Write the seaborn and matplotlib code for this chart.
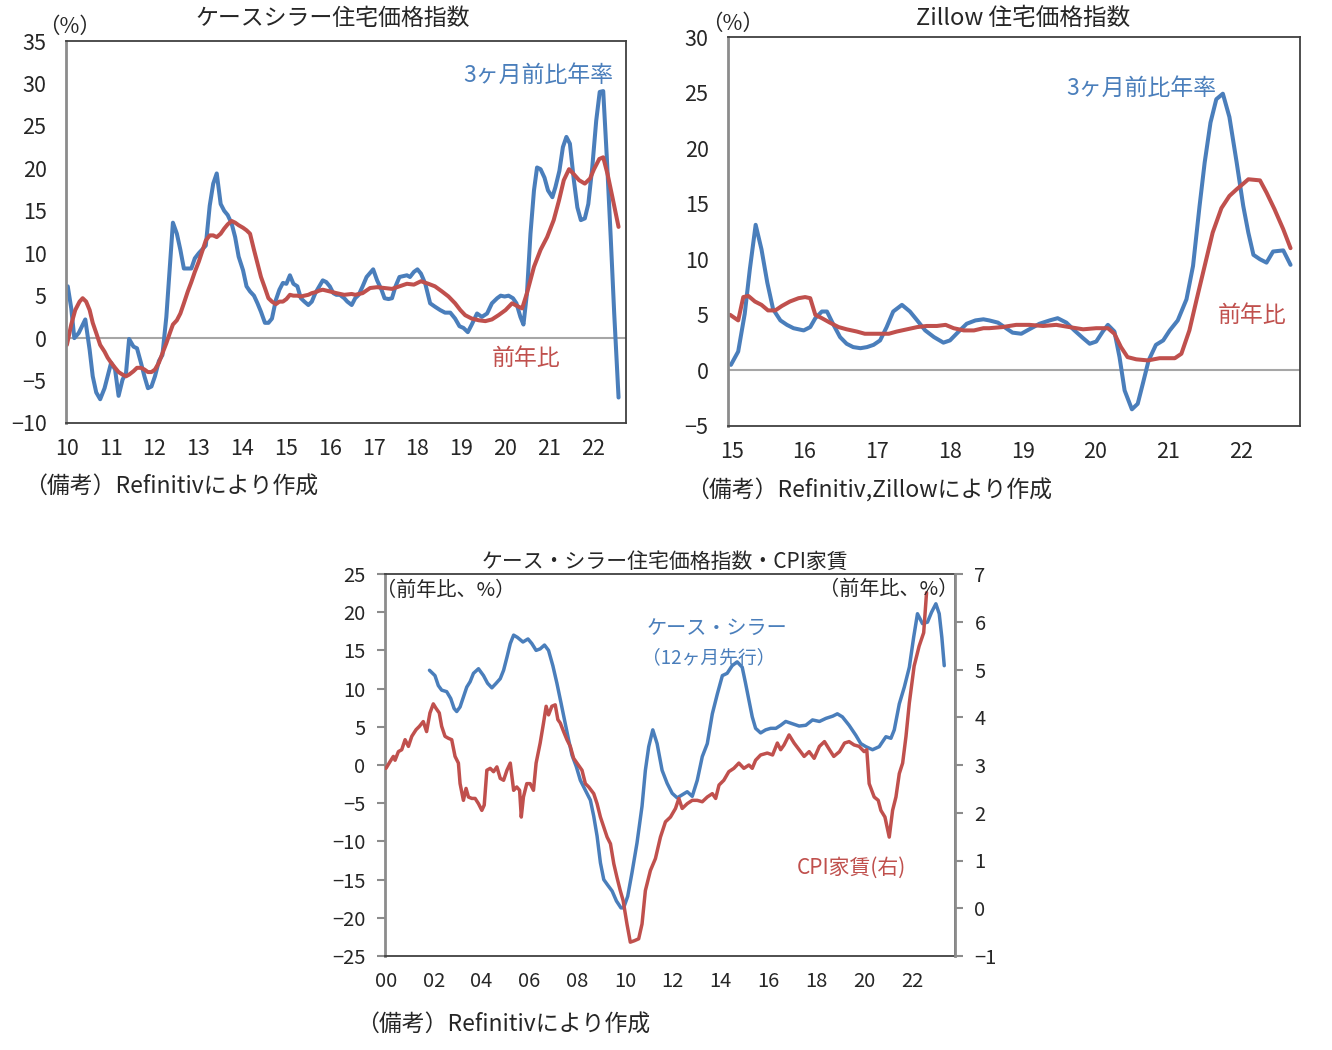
import matplotlib
matplotlib.use("Agg")
import matplotlib.pyplot as plt
import seaborn as sns

# --- data (decimal years) ---
# Case-Shiller, 3-month annualised
cs3m_x = [2010.02, 2010.10, 2010.17, 2010.27, 2010.42, 2010.52, 2010.59, 2010.67, 2010.76, 2010.86,
          2010.93, 2011.01, 2011.10, 2011.18, 2011.27, 2011.35, 2011.42, 2011.52, 2011.60, 2011.69,
          2011.77, 2011.85, 2011.93, 2012.01, 2012.10, 2012.18, 2012.27, 2012.35, 2012.42, 2012.51,
          2012.59, 2012.67, 2012.76, 2012.84, 2012.92, 2013.01, 2013.10, 2013.17, 2013.26, 2013.34,
          2013.42, 2013.51, 2013.59, 2013.67, 2013.76, 2013.84, 2013.92, 2014.02, 2014.10, 2014.18,
          2014.27, 2014.35, 2014.43, 2014.52, 2014.60, 2014.68, 2014.77, 2014.85, 2014.93, 2015.01,
          2015.09, 2015.17, 2015.26, 2015.34, 2015.42, 2015.51, 2015.59, 2015.67, 2015.76, 2015.84,
          2015.92, 2016.00, 2016.08, 2016.15, 2016.23, 2016.33, 2016.40, 2016.50, 2016.58, 2016.66,
          2016.75, 2016.84, 2016.99, 2017.08, 2017.18, 2017.25, 2017.34, 2017.42, 2017.50, 2017.59,
          2017.67, 2017.76, 2017.83, 2017.92, 2018.00, 2018.08, 2018.18, 2018.29, 2018.40, 2018.52,
          2018.63, 2018.75, 2018.86, 2018.96, 2019.05, 2019.15, 2019.24, 2019.36, 2019.47, 2019.59,
          2019.70, 2019.82, 2019.90, 2019.99, 2020.08, 2020.18, 2020.26, 2020.35, 2020.42, 2020.50,
          2020.58, 2020.66, 2020.73, 2020.81, 2020.90, 2020.98, 2021.08, 2021.15, 2021.24, 2021.32,
          2021.40, 2021.48, 2021.57, 2021.65, 2021.73, 2021.82, 2021.90, 2021.99, 2022.08, 2022.16,
          2022.24, 2022.32, 2022.41, 2022.49, 2022.59]
cs3m_y = [6.1, 3.5, 0.0, 0.6, 2.2, -1.4, -4.5, -6.4, -7.2, -5.9,
          -4.5, -2.9, -3.7, -6.8, -4.9, -4.1, -0.1, -1.0, -1.2, -2.9,
          -4.5, -5.9, -5.7, -4.5, -2.7, -2.0, 2.5, 8.4, 13.6, 12.3,
          10.4, 8.2, 8.2, 8.2, 9.4, 10.0, 10.5, 10.9, 15.6, 18.2,
          19.4, 15.8, 15.0, 14.5, 13.5, 11.9, 9.6, 8.0, 6.1, 5.5,
          5.0, 4.1, 3.1, 1.8, 1.8, 2.3, 4.5, 5.7, 6.5, 6.4,
          7.4, 6.4, 6.1, 4.7, 4.3, 3.9, 4.3, 5.3, 6.1, 6.8,
          6.6, 6.1, 5.3, 5.1, 5.1, 4.7, 4.3, 3.9, 4.7, 5.1,
          6.1, 7.2, 8.1, 6.8, 5.7, 4.7, 4.6, 4.7, 6.1, 7.2,
          7.3, 7.4, 7.2, 7.8, 8.1, 7.6, 6.4, 4.1, 3.7, 3.3,
          3.0, 3.0, 2.3, 1.4, 1.2, 0.7, 1.6, 2.9, 2.5, 2.9,
          4.1, 4.7, 5.0, 4.9, 5.0, 4.7, 4.1, 2.5, 1.6, 5.3,
          12.3, 17.4, 20.1, 19.9, 18.9, 17.4, 16.6, 17.8, 19.7, 22.5,
          23.7, 22.9, 18.6, 15.4, 13.9, 14.1, 15.8, 20.1, 25.6, 29.0,
          29.1, 21.5, 12.0, 3.0, -7.0]

# Case-Shiller, year on year
csyy_x = [2010.00, 2010.10, 2010.19, 2010.29, 2010.36, 2010.44, 2010.52, 2010.59, 2010.67, 2010.76,
          2010.86, 2010.93, 2011.01, 2011.10, 2011.18, 2011.27, 2011.35, 2011.42, 2011.52, 2011.60,
          2011.69, 2011.77, 2011.85, 2011.93, 2012.01, 2012.10, 2012.18, 2012.27, 2012.35, 2012.42,
          2012.51, 2012.59, 2012.67, 2012.76, 2012.84, 2012.92, 2013.01, 2013.10, 2013.17, 2013.26,
          2013.34, 2013.42, 2013.51, 2013.59, 2013.67, 2013.76, 2013.84, 2013.92, 2014.02, 2014.10,
          2014.18, 2014.27, 2014.35, 2014.43, 2014.52, 2014.60, 2014.68, 2014.77, 2014.85, 2014.93,
          2015.01, 2015.09, 2015.17, 2015.26, 2015.34, 2015.42, 2015.51, 2015.59, 2015.67, 2015.76,
          2015.84, 2015.92, 2016.00, 2016.15, 2016.33, 2016.50, 2016.58, 2016.75, 2016.92, 2017.08,
          2017.25, 2017.42, 2017.59, 2017.76, 2017.92, 2018.08, 2018.25, 2018.40, 2018.56, 2018.71,
          2018.86, 2018.98, 2019.09, 2019.24, 2019.40, 2019.55, 2019.70, 2019.85, 2020.01, 2020.16,
          2020.27, 2020.39, 2020.50, 2020.66, 2020.81, 2020.96, 2021.11, 2021.23, 2021.34, 2021.46,
          2021.57, 2021.69, 2021.82, 2021.94, 2022.03, 2022.15, 2022.24, 2022.34, 2022.45, 2022.59]
csyy_y = [-0.8, 1.6, 3.3, 4.3, 4.7, 4.3, 3.3, 1.8, 0.6, -0.8,
          -1.6, -2.3, -2.9, -3.5, -4.0, -4.3, -4.5, -4.3, -3.9, -3.5,
          -3.5, -3.7, -4.0, -4.0, -3.7, -2.9, -1.8, -0.6, 0.6, 1.6,
          2.1, 2.9, 4.1, 5.5, 6.6, 7.8, 9.0, 10.4, 11.5, 12.1,
          12.1, 11.9, 12.3, 12.9, 13.4, 13.8, 13.6, 13.3, 13.0, 12.7,
          12.3, 10.4, 8.8, 7.2, 5.9, 4.7, 4.3, 4.0, 4.3, 4.3,
          4.6, 5.1, 5.0, 5.0, 4.9, 5.0, 5.1, 5.3, 5.4, 5.6,
          5.7, 5.6, 5.5, 5.3, 5.1, 5.2, 5.1, 5.3, 5.9, 6.0,
          5.9, 5.8, 6.1, 6.4, 6.3, 6.7, 6.4, 6.1, 5.5, 4.9,
          4.1, 3.3, 2.7, 2.3, 2.1, 2.0, 2.2, 2.7, 3.3, 4.1,
          3.8, 3.5, 5.3, 8.4, 10.4, 11.9, 13.9, 16.2, 18.6, 19.9,
          19.3, 18.6, 18.2, 18.8, 19.9, 21.1, 21.3, 19.3, 16.6, 13.1]

# Zillow, 3-month annualised
z3m_x = [2014.99, 2015.09, 2015.18, 2015.25, 2015.33, 2015.41, 2015.49, 2015.57, 2015.67, 2015.76,
         2015.85, 2015.99, 2016.08, 2016.15, 2016.24, 2016.31, 2016.40, 2016.49, 2016.58, 2016.67,
         2016.77, 2016.86, 2016.95, 2017.04, 2017.13, 2017.22, 2017.34, 2017.45, 2017.55, 2017.66,
         2017.78, 2017.91, 2018.00, 2018.12, 2018.23, 2018.35, 2018.46, 2018.54, 2018.66, 2018.77,
         2018.86, 2018.98, 2019.09, 2019.23, 2019.37, 2019.48, 2019.60, 2019.71, 2019.83, 2019.92,
         2020.01, 2020.10, 2020.17, 2020.26, 2020.33, 2020.40, 2020.50, 2020.58, 2020.65, 2020.73,
         2020.83, 2020.93, 2021.02, 2021.13, 2021.25, 2021.34, 2021.43, 2021.50, 2021.58, 2021.66,
         2021.75, 2021.84, 2021.94, 2022.03, 2022.10, 2022.17, 2022.26, 2022.35, 2022.44, 2022.58,
         2022.68]
z3m_y = [0.5, 1.7, 5.1, 9.1, 13.1, 10.9, 7.9, 5.5, 4.5, 4.1,
         3.8, 3.6, 3.9, 4.7, 5.3, 5.3, 4.1, 3.0, 2.4, 2.1,
         2.0, 2.1, 2.3, 2.7, 3.9, 5.3, 5.9, 5.3, 4.5, 3.6,
         3.0, 2.5, 2.7, 3.5, 4.2, 4.5, 4.6, 4.5, 4.3, 3.8,
         3.4, 3.3, 3.7, 4.2, 4.5, 4.7, 4.3, 3.6, 2.9, 2.4,
         2.6, 3.5, 4.1, 3.5, 1.2, -1.8, -3.5, -3.0, -1.2, 0.9,
         2.3, 2.7, 3.6, 4.5, 6.4, 9.4, 14.8, 18.7, 22.3, 24.4,
         24.9, 22.8, 18.7, 14.8, 12.4, 10.4, 10.0, 9.7, 10.7, 10.8,
         9.5]

# Zillow, year on year
zyy_x = [2014.98, 2015.09, 2015.16, 2015.23, 2015.32, 2015.41, 2015.50, 2015.60, 2015.69, 2015.80,
         2015.92, 2016.01, 2016.08, 2016.15, 2016.24, 2016.35, 2016.47, 2016.58, 2016.72, 2016.83,
         2016.99, 2017.16, 2017.27, 2017.41, 2017.55, 2017.68, 2017.82, 2017.94, 2018.05, 2018.19,
         2018.33, 2018.46, 2018.54, 2018.72, 2018.91, 2019.09, 2019.28, 2019.46, 2019.64, 2019.83,
         2020.01, 2020.17, 2020.26, 2020.35, 2020.44, 2020.56, 2020.72, 2020.88, 2021.09, 2021.18,
         2021.29, 2021.39, 2021.50, 2021.61, 2021.73, 2021.84, 2021.94, 2022.03, 2022.10, 2022.26,
         2022.35, 2022.46, 2022.58, 2022.68]
zyy_y = [5.0, 4.5, 6.6, 6.7, 6.2, 5.9, 5.4, 5.4, 5.8, 6.2,
         6.5, 6.6, 6.5, 5.0, 4.7, 4.3, 3.9, 3.7, 3.5, 3.3,
         3.3, 3.3, 3.5, 3.7, 3.9, 4.0, 4.0, 4.1, 3.8, 3.6,
         3.6, 3.8, 3.8, 3.9, 4.1, 4.1, 4.0, 4.1, 3.9, 3.7,
         3.8, 3.8, 3.3, 2.1, 1.2, 1.0, 0.9, 1.1, 1.1, 1.5,
         3.6, 6.4, 9.4, 12.4, 14.6, 15.7, 16.3, 16.8, 17.2, 17.1,
         16.0, 14.5, 12.7, 11.0]

# Case-Shiller y/y shifted 12 months ahead (left axis)
lead_x = [2001.82, 2002.05, 2002.19, 2002.33, 2002.54, 2002.71, 2002.85, 2002.96, 2003.10, 2003.24,
          2003.38, 2003.52, 2003.66, 2003.87, 2004.08, 2004.25, 2004.43, 2004.61, 2004.78, 2004.92,
          2005.06, 2005.20, 2005.34, 2005.50, 2005.73, 2005.94, 2006.10, 2006.28, 2006.45, 2006.63,
          2006.80, 2006.98, 2007.15, 2007.33, 2007.50, 2007.64, 2007.78, 2007.96, 2008.13, 2008.34,
          2008.55, 2008.69, 2008.83, 2008.97, 2009.11, 2009.27, 2009.46, 2009.64, 2009.83, 2009.94,
          2010.11, 2010.29, 2010.50, 2010.71, 2010.85, 2010.99, 2011.16, 2011.34, 2011.55, 2011.76,
          2011.97, 2012.18, 2012.39, 2012.60, 2012.81, 2013.02, 2013.23, 2013.44, 2013.65, 2013.86,
          2014.07, 2014.27, 2014.48, 2014.69, 2014.90, 2015.04, 2015.18, 2015.32, 2015.46, 2015.67,
          2015.88, 2016.09, 2016.31, 2016.51, 2016.72, 2017.00, 2017.28, 2017.56, 2017.84, 2018.13,
          2018.40, 2018.69, 2018.88, 2019.09, 2019.37, 2019.65, 2019.86, 2020.07, 2020.35, 2020.63,
          2020.91, 2021.12, 2021.26, 2021.47, 2021.68, 2021.89, 2022.07, 2022.23, 2022.44, 2022.65,
          2022.82, 2023.00, 2023.14, 2023.25, 2023.35]
lead_y = [12.4, 11.7, 10.4, 9.8, 9.6, 8.7, 7.4, 7.0, 7.6, 8.9,
          10.2, 10.9, 12.0, 12.6, 11.7, 10.7, 10.1, 10.7, 11.3, 12.4,
          14.1, 15.9, 17.0, 16.7, 16.1, 16.5, 15.9, 15.0, 15.2, 15.7,
          15.0, 13.0, 10.7, 8.0, 5.4, 3.3, 1.3, -0.2, -2.0, -3.3,
          -4.6, -6.7, -9.3, -12.8, -15.0, -15.7, -16.5, -17.8, -18.7, -18.7,
          -17.2, -14.1, -10.2, -5.4, -0.7, 2.4, 4.6, 2.8, -0.7, -2.4,
          -3.7, -4.3, -3.9, -3.5, -4.1, -2.0, 1.1, 2.8, 6.7, 9.3,
          11.7, 12.0, 13.0, 13.5, 12.8, 10.7, 8.5, 6.3, 4.8, 4.2,
          4.6, 4.8, 4.8, 5.2, 5.7, 5.4, 5.1, 5.2, 5.9, 5.7,
          6.1, 6.4, 6.7, 6.3, 5.2, 3.9, 2.8, 2.4, 2.0, 2.4,
          3.7, 3.5, 4.6, 8.0, 10.2, 12.8, 16.7, 19.8, 18.5, 18.7,
          20.0, 21.1, 19.8, 16.7, 13.0]

# CPI rent y/y (right axis)
rent_x = [2000.00, 2000.17, 2000.31, 2000.38, 2000.52, 2000.66, 2000.80, 2000.94, 2001.08, 2001.26,
          2001.40, 2001.56, 2001.70, 2001.84, 2001.98, 2002.09, 2002.23, 2002.33, 2002.47, 2002.61,
          2002.75, 2002.89, 2003.03, 2003.10, 2003.24, 2003.35, 2003.45, 2003.59, 2003.73, 2003.87,
          2004.01, 2004.11, 2004.22, 2004.36, 2004.50, 2004.64, 2004.78, 2004.92, 2005.06, 2005.20,
          2005.34, 2005.47, 2005.59, 2005.66, 2005.75, 2005.89, 2006.03, 2006.17, 2006.28, 2006.45,
          2006.59, 2006.70, 2006.80, 2006.94, 2007.08, 2007.19, 2007.29, 2007.43, 2007.57, 2007.71,
          2007.85, 2007.99, 2008.20, 2008.34, 2008.48, 2008.69, 2008.83, 2008.97, 2009.11, 2009.25,
          2009.39, 2009.53, 2009.66, 2009.80, 2009.92, 2010.08, 2010.22, 2010.39, 2010.57, 2010.71,
          2010.85, 2011.06, 2011.27, 2011.48, 2011.69, 2011.90, 2012.11, 2012.25, 2012.39, 2012.60,
          2012.81, 2013.02, 2013.23, 2013.44, 2013.65, 2013.79, 2013.93, 2014.13, 2014.34, 2014.55,
          2014.76, 2014.97, 2015.18, 2015.32, 2015.46, 2015.67, 2015.95, 2016.17, 2016.37, 2016.51,
          2016.65, 2016.86, 2017.07, 2017.28, 2017.49, 2017.70, 2017.91, 2018.13, 2018.34, 2018.55,
          2018.73, 2018.97, 2019.18, 2019.37, 2019.58, 2019.79, 2020.00, 2020.11, 2020.21, 2020.42,
          2020.59, 2020.70, 2020.87, 2021.05, 2021.19, 2021.33, 2021.47, 2021.61, 2021.75, 2021.89,
          2022.09, 2022.30, 2022.49, 2022.61]
rent_y = [2.93, 3.07, 3.18, 3.10, 3.28, 3.32, 3.53, 3.39, 3.60, 3.74,
          3.81, 3.91, 3.70, 4.09, 4.28, 4.19, 4.09, 3.81, 3.60, 3.56,
          3.53, 3.18, 3.04, 2.61, 2.26, 2.51, 2.33, 2.30, 2.30, 2.19,
          2.05, 2.16, 2.89, 2.93, 2.86, 2.96, 2.72, 2.68, 2.89, 3.04,
          2.47, 2.54, 2.47, 1.91, 2.33, 2.61, 2.61, 2.47, 3.04, 3.46,
          3.88, 4.23, 4.05, 4.23, 4.26, 3.95, 3.88, 3.70, 3.53, 3.39,
          3.14, 3.04, 2.89, 2.61, 2.54, 2.40, 2.19, 1.91, 1.70, 1.49,
          1.35, 0.93, 0.65, 0.37, 0.16, -0.33, -0.71, -0.68, -0.64, -0.33,
          0.37, 0.79, 1.04, 1.49, 1.81, 1.91, 2.09, 2.30, 2.09, 2.19,
          2.26, 2.26, 2.23, 2.33, 2.40, 2.30, 2.58, 2.68, 2.86, 2.93,
          3.04, 2.93, 3.00, 2.93, 3.10, 3.21, 3.25, 3.21, 3.46, 3.32,
          3.42, 3.63, 3.46, 3.32, 3.18, 3.28, 3.14, 3.39, 3.49, 3.32,
          3.18, 3.28, 3.46, 3.49, 3.42, 3.39, 3.28, 3.32, 2.61, 2.33,
          2.26, 2.05, 1.91, 1.49, 2.05, 2.33, 2.82, 3.04, 3.60, 4.30,
          5.07, 5.49, 5.77, 6.61]

BLUE = "#4a7ebb"
RED = "#c0504d"

sns.set_style("white")
plt.rcParams["font.family"] = ["Noto Sans CJK JP", "DejaVu Sans"]
plt.rcParams["axes.unicode_minus"] = True

fig = plt.figure(figsize=(13.32, 10.5), dpi=100)
W, H = 1332, 1050


def px(x, y):
    return x / W, 1 - y / H


def style(ax, fs=15.5):
    for s in ["top", "right", "bottom"]:
        ax.spines[s].set_color("#404040")
        ax.spines[s].set_linewidth(1.3)
    ax.spines["left"].set_color("#8c8c8c")
    ax.spines["left"].set_linewidth(2)
    ax.tick_params(axis="y", length=6, width=1.5, color="#8c8c8c", pad=8, labelsize=fs)
    ax.tick_params(axis="x", length=0, pad=11, labelsize=fs)
    ax.set_xlabel("")
    ax.set_ylabel("")


# ---------- panel 1: Case-Shiller ----------
ax1 = fig.add_axes([66 / W, 1 - 423 / H, 560 / W, 382 / H])
ax1.axhline(0, color="#a6a6a6", lw=1.5, zorder=1)
sns.lineplot(x=cs3m_x, y=cs3m_y, ax=ax1, color=BLUE, lw=2.9)
sns.lineplot(x=csyy_x, y=csyy_y, ax=ax1, color=RED, lw=2.9)
ax1.set_xlim(2009.98, 2022.76)
ax1.set_ylim(-10, 35)
ax1.set_yticks(range(-10, 36, 5))
ax1.set_xticks(range(2010, 2023))
ax1.set_xticklabels([f"{y % 100:02d}" for y in range(2010, 2023)])
style(ax1)
ax1.text(2019.05, 31.0, "3ヶ月前比年率", color=BLUE, fontsize=16.5, va="center")
ax1.text(2019.7, -2.4, "前年比", color=RED, fontsize=16.5, va="center")
fig.text(*px(333, 18), "ケースシラー住宅価格指数", fontsize=16.5, ha="center", va="center")
fig.text(*px(70, 27), "（%）", fontsize=15.5, ha="center", va="center")
fig.text(*px(24, 487), "（備考）Refinitivにより作成", fontsize=16.5, ha="left", va="center")

# ---------- panel 2: Zillow ----------
ax2 = fig.add_axes([728 / W, 1 - 426 / H, 572 / W, 389 / H])
ax2.axhline(0, color="#a6a6a6", lw=1.5, zorder=1)
sns.lineplot(x=z3m_x, y=z3m_y, ax=ax2, color=BLUE, lw=2.9)
sns.lineplot(x=zyy_x, y=zyy_y, ax=ax2, color=RED, lw=2.9)
ax2.set_xlim(2014.95, 2022.81)
ax2.set_ylim(-5, 30)
ax2.set_yticks(range(-5, 31, 5))
ax2.set_xticks(range(2015, 2023))
ax2.set_xticklabels([f"{y % 100:02d}" for y in range(2015, 2023)])
style(ax2)
ax2.text(2019.6, 25.4, "3ヶ月前比年率", color=BLUE, fontsize=16.5, va="center")
ax2.text(2021.68, 4.9, "前年比", color=RED, fontsize=16.5, va="center")
fig.text(*px(1023, 18), "Zillow 住宅価格指数", fontsize=17, ha="center", va="center")
fig.text(*px(733, 24), "（%）", fontsize=15.5, ha="center", va="center")
fig.text(*px(686, 491), "（備考）Refinitiv,Zillowにより作成", fontsize=16.5, ha="left", va="center")

# ---------- panel 3: Case-Shiller (12m lead) vs CPI rent ----------
ax3 = fig.add_axes([385 / W, 1 - 956 / H, 570 / W, 382 / H])
ax3r = ax3.twinx()
sns.lineplot(x=lead_x, y=lead_y, ax=ax3, color=BLUE, lw=2.5)
sns.lineplot(x=rent_x, y=rent_y, ax=ax3r, color=RED, lw=2.5)
ax3.set_xlim(1999.96, 2023.8)
ax3.set_ylim(-25, 25)
ax3.set_yticks(range(-25, 26, 5))
ax3r.set_ylim(-1, 7)
ax3r.set_yticks(range(-1, 8))
ax3.set_xticks(range(2000, 2023, 2))
ax3.set_xticklabels([f"{y % 100:02d}" for y in range(2000, 2023, 2)])
style(ax3, fs=14.5)
ax3r.set_ylabel("")
for s in ["top", "left", "bottom"]:
    ax3r.spines[s].set_visible(False)
ax3r.spines["right"].set_color("#8c8c8c")
ax3r.spines["right"].set_linewidth(2)
ax3r.tick_params(axis="y", length=6, width=1.5, color="#8c8c8c", pad=8, labelsize=14.5)
ax3.text(2010.9, 17.9, "ケース・シラー", color=BLUE, fontsize=14.5, va="center")
ax3.text(2010.7, 14.1, "（12ヶ月先行）", color=BLUE, fontsize=13.5, va="center")
ax3.text(2017.2, -13.5, "CPI家賃(右)", color=RED, fontsize=15, va="center")
fig.text(*px(665, 562), "ケース・シラー住宅価格指数・CPI家賃", fontsize=15, ha="center", va="center")
fig.text(*px(376, 590), "（前年比、%）", fontsize=14.5, ha="left", va="center")
fig.text(*px(958, 589), "（前年比、%）", fontsize=14.5, ha="right", va="center")
fig.text(*px(356, 1025), "（備考）Refinitivにより作成", fontsize=16.5, ha="left", va="center")

fig.savefig("out.png", dpi=100)
